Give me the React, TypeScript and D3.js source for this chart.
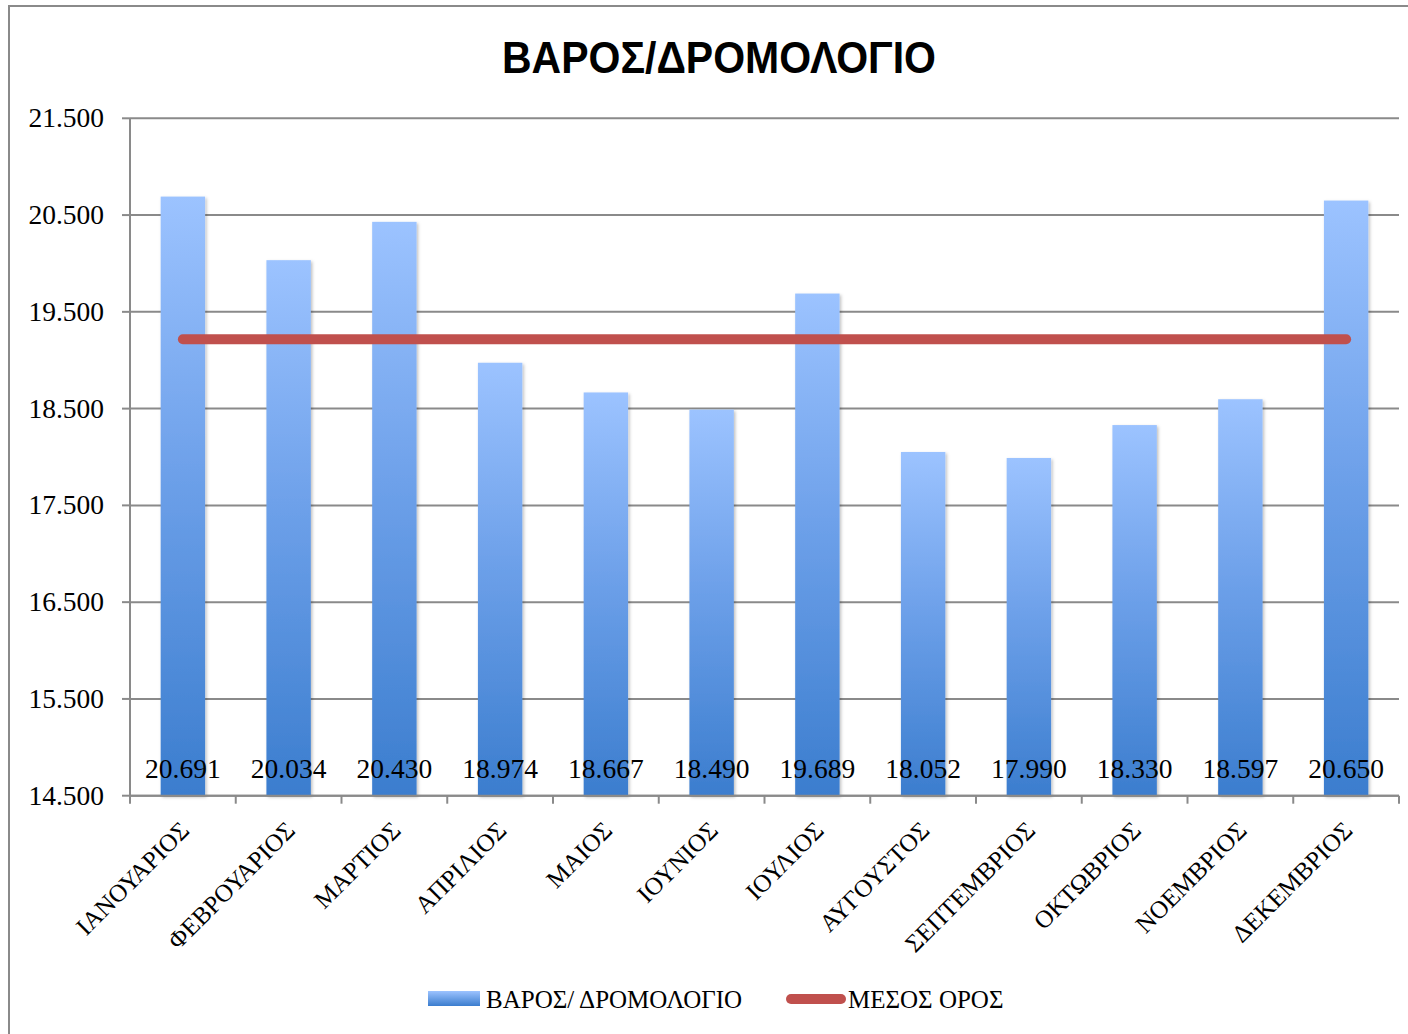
import React from "react";
import * as d3 from "d3";

const title = "ΒΑΡΟΣ/ΔΡΟΜΟΛΟΓΙΟ";
const months = [
  "ΙΑΝΟΥΑΡΙΟΣ", "ΦΕΒΡΟΥΑΡΙΟΣ", "ΜΑΡΤΙΟΣ", "ΑΠΡΙΛΙΟΣ", "ΜΑΙΟΣ", "ΙΟΥΝΙΟΣ",
  "ΙΟΥΛΙΟΣ", "ΑΥΓΟΥΣΤΟΣ", "ΣΕΠΤΕΜΒΡΙΟΣ", "ΟΚΤΩΒΡΙΟΣ", "ΝΟΕΜΒΡΙΟΣ", "ΔΕΚΕΜΒΡΙΟΣ",
];
const weightPerRoute = [20691, 20034, 20430, 18974, 18667, 18490, 19689, 18052, 17990, 18330, 18597, 20650];
const averageLine = [19216, 19216, 19216, 19216, 19216, 19216, 19216, 19216, 19216, 19216, 19216, 19216];
const yTicks = [14500, 15500, 16500, 17500, 18500, 19500, 20500, 21500];
const seriesNames = ["ΒΑΡΟΣ/ ΔΡΟΜΟΛΟΓΙΟ", "ΜΕΣΟΣ ΟΡΟΣ"];

const W = 1408;
const H = 1034;
const left = 130, right = 1399, top = 118.3, bottom = 795.7;

const locale = d3.formatLocale({ decimal: ",", thousands: ".", grouping: [3], currency: ["", "€"] });
const fmt = locale.format(",d");

const serif = "'Liberation Serif', 'DejaVu Serif', serif";

export default function App() {
  const x = d3.scaleBand<string>().domain(months).range([left, right]).padding(0);
  const y = d3.scaleLinear().domain([14500, 21500]).range([bottom, top]);
  const bw = x.bandwidth();
  const barW = bw * 0.42;
  const cx = (m: string) => (x(m) as number) + bw / 2;

  const line = d3
    .line<number>()
    .x((_, i) => cx(months[i]))
    .y((d) => y(d));

  const boundaries = d3.range(months.length + 1).map((i) => left + i * bw);

  return (
    <svg
      width={W}
      height={H}
      style={{ position: "absolute", left: 0, top: 0, background: "#fff" }}
    >
      <defs>
        <linearGradient id="barGrad" x1="0" y1="1" x2="0" y2="0">
          <stop offset="0%" stopColor="#3b7dce" />
          <stop offset="55%" stopColor="#6ea1ea" />
          <stop offset="100%" stopColor="#9cc3ff" />
        </linearGradient>
        <linearGradient id="legGrad" x1="0" y1="1" x2="0" y2="0">
          <stop offset="0%" stopColor="#3b7dce" />
          <stop offset="100%" stopColor="#9cc3ff" />
        </linearGradient>
        <filter id="shadow" x="-20%" y="-5%" width="140%" height="110%">
          <feDropShadow dx="1.5" dy="1.5" stdDeviation="1.5" floodColor="#000" floodOpacity="0.25" />
        </filter>
      </defs>

      {/* chart border */}
      <rect x={9} y={6} width={W + 20} height={H + 20} fill="none" stroke="#8a8a8a" strokeWidth={2} />

      {/* title */}
      <text
        x={719}
        y={73}
        textAnchor="middle"
        fontFamily="'Liberation Sans Narrow', 'Liberation Sans', Arial, sans-serif"
        fontWeight="bold"
        fontSize={44}
        textLength={434}
        lengthAdjust="spacingAndGlyphs"
        fill="#000"
      >
        {title}
      </text>

      {/* gridlines */}
      {yTicks.map((t) => (
        <line key={"g" + t} x1={left} x2={right} y1={y(t)} y2={y(t)} stroke="#8a8a8a" strokeWidth={2} />
      ))}

      {/* y tick marks & labels */}
      {yTicks.map((t) => (
        <g key={"y" + t}>
          <line x1={122} x2={left} y1={y(t)} y2={y(t)} stroke="#8a8a8a" strokeWidth={2} />
          <text x={104} y={y(t) + 9} textAnchor="end" fontFamily={serif} fontSize={27.5} fill="#000">
            {fmt(t)}
          </text>
        </g>
      ))}

      {/* bars */}
      {weightPerRoute.map((v, i) => (
        <rect
          key={"b" + i}
          x={cx(months[i]) - barW / 2}
          y={y(v)}
          width={barW}
          height={bottom - y(v)}
          fill="url(#barGrad)"
          filter="url(#shadow)"
        />
      ))}

      {/* axes */}
      <line x1={left} x2={left} y1={top} y2={bottom} stroke="#8a8a8a" strokeWidth={2} />
      <line x1={left} x2={right} y1={bottom} y2={bottom} stroke="#8a8a8a" strokeWidth={2} />
      {boundaries.map((b, i) => (
        <line key={"xt" + i} x1={b} x2={b} y1={bottom} y2={bottom + 8} stroke="#8a8a8a" strokeWidth={2} />
      ))}

      {/* average line */}
      <path
        d={line(averageLine) as string}
        fill="none"
        stroke="#c0504d"
        strokeWidth={10}
        strokeLinecap="round"
      />

      {/* data labels */}
      {weightPerRoute.map((v, i) => (
        <text
          key={"l" + i}
          x={cx(months[i])}
          y={778}
          textAnchor="middle"
          fontFamily={serif}
          fontSize={27.5}
          fill="#000"
        >
          {fmt(v)}
        </text>
      ))}

      {/* x labels */}
      {months.map((m) => (
        <text
          key={"x" + m}
          transform={`translate(${cx(m) + 8},${832}) rotate(-45)`}
          textAnchor="end"
          fontFamily={serif}
          fontSize={25}
          fill="#000"
        >
          {m}
        </text>
      ))}

      {/* legend */}
      <rect x={428} y={991} width={52} height={15} fill="url(#legGrad)" />
      <text x={486} y={1008} fontFamily={serif} fontSize={25} fill="#000">
        {seriesNames[0]}
      </text>
      <line x1={791} x2={841} y1={999} y2={999} stroke="#c0504d" strokeWidth={10} strokeLinecap="round" />
      <text x={848} y={1008} fontFamily={serif} fontSize={25} fill="#000">
        {seriesNames[1]}
      </text>
    </svg>
  );
}
